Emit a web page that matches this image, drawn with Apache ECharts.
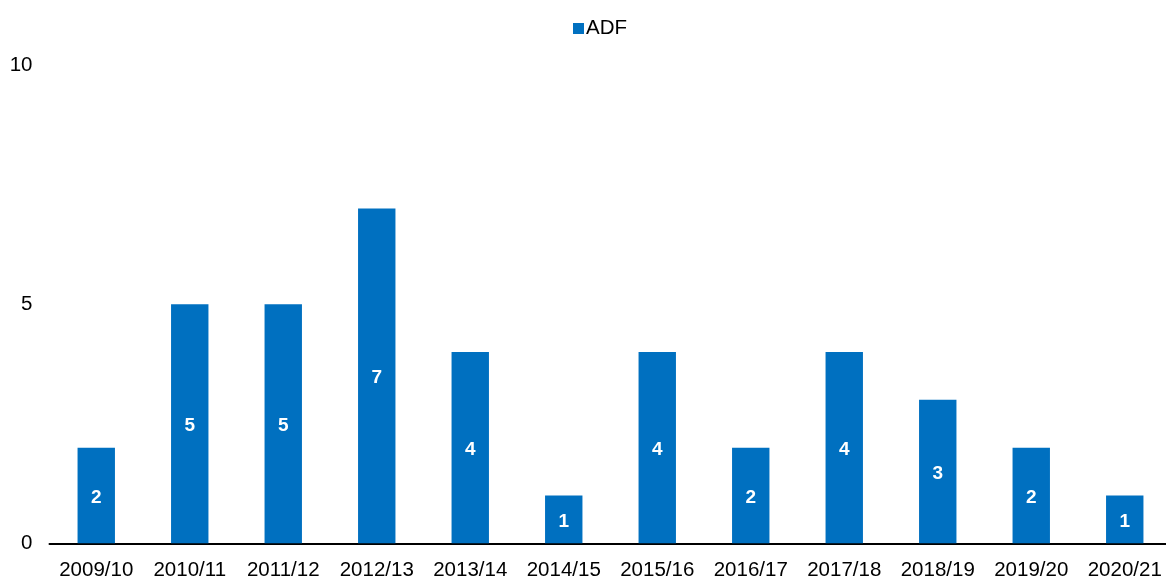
<!DOCTYPE html>
<html>
<head>
<meta charset="utf-8">
<script src="https://cdn.jsdelivr.net/npm/echarts@6/dist/echarts.min.js"></script>
<style>html,body{margin:0;padding:0;background:#fff}#c{width:1166px;height:578px}</style>
</head>
<body>
<div id="c"></div>
<script>
const categories = ['2009/10','2010/11','2011/12','2012/13','2013/14','2014/15','2015/16','2016/17','2017/18','2018/19','2019/20','2020/21'];
const adfValues = [2,5,5,7,4,1,4,2,4,3,2,1];
const seriesName = 'ADF';

const chart = echarts.init(document.getElementById('c'));
const font = '"Liberation Sans", Arial, sans-serif';
chart.setOption({
  animation: false,
  textStyle: { fontFamily: font },
  legend: {
    data: [seriesName],
    left: 568, top: 13,
    icon: 'rect', itemWidth: 11, itemHeight: 11, itemGap: 10,
    textStyle: { fontFamily: font, fontSize: 20.5, color: '#000', padding: [0,0,0,-3] }
  },
  grid: { left: 49.5, width: 1122, top: 65, height: 478.3, containLabel: false, outerBoundsMode: 'none' },
  xAxis: {
    type: 'category', data: categories,
    axisLine: { lineStyle: { color: '#000', width: 2 } },
    axisTick: { show: false },
    axisLabel: { fontFamily: font, fontSize: 20.5, color: '#000', margin: 17, interval: 0 }
  },
  yAxis: {
    type: 'value', min: 0, max: 10, interval: 5,
    axisLine: { show: false }, axisTick: { show: false }, splitLine: { show: false },
    axisLabel: { fontFamily: font, fontSize: 20.5, color: '#000', margin: 17 }
  },
  series: [{
    name: seriesName, type: 'bar', data: adfValues, barWidth: '40%',
    itemStyle: { color: '#0070C0' },
    label: { show: true, position: 'inside', offset: [0, 2], color: '#fff', fontWeight: 'bold', fontSize: 19, fontFamily: font }
  }]
});
</script>
</body>
</html>
